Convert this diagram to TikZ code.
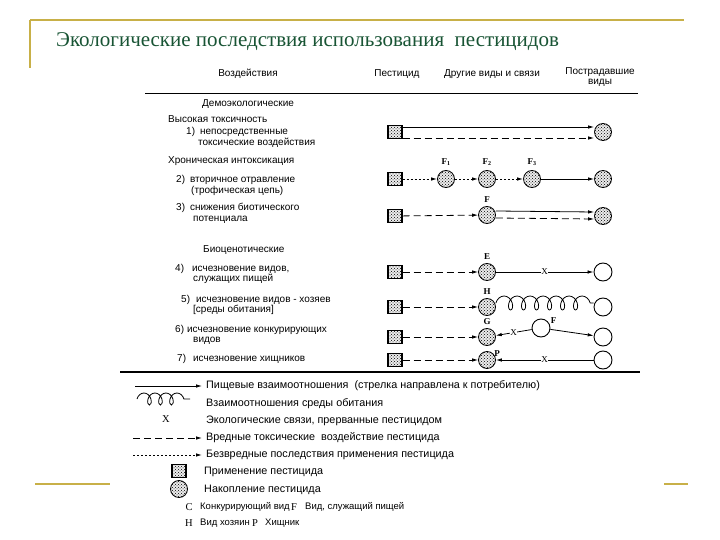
\documentclass[tikz,border=0pt]{standalone}
\usepackage{fontspec}
\setmainfont{Liberation Serif}
\setsansfont{Liberation Sans}
\usetikzlibrary{arrows.meta, positioning, patterns, decorations.pathmorphing}

\definecolor{framegold}{RGB}{200,176,72}
\definecolor{titlegreen}{RGB}{24,84,52}

\tikzset{
  pest/.style={rectangle, draw, line width=1.4pt, minimum width=14pt, minimum height=13pt, inner sep=0pt, fill=gray!15, postaction={pattern=crosshatch dots}},
  accum/.style={circle, draw, line width=0.8pt, minimum size=17pt, inner sep=0pt, fill=gray!15, postaction={pattern=crosshatch dots}},
  spec/.style={circle, draw, line width=0.9pt, minimum size=18pt, inner sep=0pt},
  food/.style={->, line width=0.8pt},
  harm/.style={->, line width=0.8pt, dash pattern=on 7pt off 4pt},
  safe/.style={->, line width=0.9pt, dash pattern=on 2pt off 2pt},
  habitat/.style={line width=0.8pt, decorate, decoration={coil, aspect=0.7, segment length=13pt, amplitude=7pt}},
  xmark/.style={font=\rmfamily\small, fill=white, inner sep=0.5pt},
  lbl/.style={font=\rmfamily\bfseries\small, inner sep=1pt},
  txt/.style={font=\sffamily\fontsize{10}{10.5}\selectfont, anchor=base west, inner sep=0pt, align=left},
  hdr/.style={font=\sffamily\fontsize{10}{9.5}\selectfont, inner sep=0pt, align=center},
  leg/.style={font=\sffamily\fontsize{10.8}{12}\selectfont, anchor=west, inner sep=0pt},
  legsm/.style={font=\sffamily\fontsize{9.5}{11}\selectfont, anchor=west, inner sep=0pt},
  letter/.style={font=\rmfamily\fontsize{10.5}{12}\selectfont, inner sep=0pt}
}

\begin{document}
\begin{tikzpicture}[x=1pt, y=-1pt, >={Latex[length=6pt,width=3.5pt]}]
  \fill[white] (0,0) rectangle (720,540);
  \useasboundingbox (0,0) rectangle (720,540);

  % slide frame
  \draw[framegold, line width=1.6pt] (30,20) -- (684,20);
  \draw[framegold, line width=1.6pt] (30,20) -- (30,68);
  \draw[framegold, line width=1.6pt] (35,484) -- (110,484);
  \draw[framegold, line width=1.6pt] (664,484) -- (688,484);
  \node[font=\rmfamily\fontsize{21}{24}\selectfont, text=titlegreen, anchor=west, inner sep=0pt] (title) at (56,42) {Экологические последствия использования~ пестицидов};

  % table head
  \node[hdr] (hImpact) at (248,74) {Воздействия};
  \node[hdr] (hPest) at (397,74) {Пестицид};
  \node[hdr] (hOther) at (492,74) {Другие виды и связи};
  \node[hdr] (hVictim) at (600,77) {Пострадавшие\\виды};
  \draw[line width=1.3pt] (145,93.5) -- (638,93.5);

  % left column (base = last line)
  \node[txt] (tDemo) at (202,107) {Демоэкологические};
  \node[txt] (tHigh) at (168,123) {Высокая токсичность};
  \node[txt] (t1) at (186,145.5) {1)\hspace{5pt}непосредственные\\\hspace{12pt}токсические воздействия};
  \node[txt] (tChron) at (168,164) {Хроническая интоксикация};
  \node[txt] (t2) at (176,193.5) {2)\hspace{5pt}вторичное отравление\\\hspace{15pt}(трофическая цепь)};
  \node[txt] (t3) at (176,221.5) {3)\hspace{5pt}снижения биотического\\\hspace{17pt}потенциала};
  \node[txt] (tBio) at (203,252) {Биоценотические};
  \node[txt] (t4) at (175,281.5) {4)\hspace{8pt}исчезновение видов,\\\hspace{18pt}служащих пищей};
  \node[txt] (t5) at (181,312.5) {5)\hspace{6pt}исчезновение видов - хозяев\\\hspace{12pt}[среды обитания]};
  \node[txt] (t6) at (175,342.5) {6)\hspace{3pt}исчезновение конкурирующих\\\hspace{18pt}видов};
  \node[txt] (t7) at (177,361) {7)\hspace{7pt}исчезновение хищников};

  % 1: direct toxic effects
  \node[pest] (s1) at (395,132) {};
  \node[accum] (v1) at (603,132) {};
  \draw[food] ([yshift=5pt]s1.east) -- ([yshift=5pt]v1.west);
  \draw[harm] ([yshift=-6pt]s1.east) -- ([yshift=-6pt]v1.west);

  % 2: food chain
  \node[pest] (s2) at (395,179) {};
  \node[accum] (f1) at (446,179) {};
  \node[accum] (f2) at (487,179) {};
  \node[accum] (f3) at (532,179) {};
  \node[accum] (v2) at (603,179) {};
  \node[lbl, above=3pt of f1] (lf1) {F\textsubscript{1}};
  \node[lbl, above=3pt of f2] (lf2) {F\textsubscript{2}};
  \node[lbl, above=3pt of f3] (lf3) {F\textsubscript{3}};
  \draw[safe] (s2) -- (f1);
  \draw[safe] (f1) -- (f2);
  \draw[safe] (f2) -- (f3);
  \draw[food] (f3) -- (v2);

  % 3: biotic potential
  \node[pest] (s3) at (395,216) {};
  \node[accum] (fr3) at (487,215) {};
  \node[accum] (v3) at (603,216) {};
  \node[lbl, above=2pt of fr3] (lfr3) {F};
  \draw[harm] (s3) -- (fr3);
  \draw[food] ([yshift=4pt]fr3.east) -- ([yshift=4pt]v3.west);
  \draw[harm] ([yshift=-3pt]fr3.east) -- ([yshift=-3pt]v3.west);

  % 4: food species
  \node[pest] (s4) at (395,272) {};
  \node[accum] (e4) at (487,272) {};
  \node[spec] (v4) at (603,272) {};
  \node[lbl, above=2pt of e4] (le4) {E};
  \draw[harm] (s4) -- (e4);
  \draw[food] (e4) -- node[xmark] (x4) {X} (v4);

  % 5: host species
  \node[pest] (s5) at (395,307) {};
  \node[accum] (h5) at (487,307) {};
  \node[spec] (v5) at (603,307) {};
  \node[lbl, above=2pt of h5] (lh5) {H};
  \draw[harm] (s5) -- (h5);
  \draw[habitat] ([yshift=4pt]h5.east) -- ([yshift=4pt]v5.west);

  % 6: competitors
  \node[pest] (s6) at (395,337) {};
  \node[accum] (g6) at (487,337) {};
  \node[spec] (c6) at (541,328) {};
  \node[spec] (v6) at (603,337) {};
  \node[lbl, above=2pt of g6] (lg6) {G};
  \node[lbl, above right=-3pt and 2pt of c6] (lc6) {F};
  \draw[harm] (s6) -- (g6);
  \draw[food] (c6) -- node[xmark] (x6) {X} (g6);
  \draw[food] (c6) -- (v6);

  % 7: predators
  \node[pest] (s7) at (395,360) {};
  \node[accum] (p7) at (487,360) {};
  \node[spec] (v7) at (603,360) {};
  \node[lbl, above right=-4pt and 0pt of p7] (lp7) {P};
  \draw[harm] (s7) -- (p7);
  \draw[food] (v7) -- node[xmark] (x7) {X} (p7);

  \draw[line width=1.5pt] (120,372) -- (640,372);

  % legend
  \node[leg] (lg1) at (206,386) {Пищевые взаимоотношения~ (стрелка направлена к потребителю)};
  \coordinate (lg1s) at (135,386);
  \draw[food] (lg1s) -- ([xshift=-4pt]lg1.west);
  \coordinate (lc1) at (137,399);
  \coordinate (lc2) at (190,399);
  \draw[habitat, decoration={segment length=11pt, amplitude=6pt}] (lc1) -- (lc2);
  \node[leg] (lg2) at (206,404) {Взаимоотношения среды обитания};
  \node[letter] (lx) at (166,419) {X};
  \node[leg] (lg3) at (206,421) {Экологические связи, прерванные пестицидом};
  \node[leg] (lg4) at (206,438) {Вредные токсические~ воздействие пестицида};
  \coordinate (lg4s) at (133,438);
  \draw[harm] (lg4s) -- ([xshift=-4pt]lg4.west);
  \node[leg] (lg5) at (206,455) {Безвредные последствия применения пестицида};
  \coordinate (lg5s) at (133,455);
  \draw[safe] (lg5s) -- ([xshift=-4pt]lg5.west);
  \node[pest] (lsq) at (179,471) {};
  \node[leg] (lg6) at (204,472) {Применение пестицида};
  \node[accum] (lci) at (179,489) {};
  \node[leg] (lg7) at (204,490) {Накопление пестицида};
  \node[letter] (lC) at (189,507) {C};
  \node[legsm] (lg8) at (200,507) {Конкурирующий вид};
  \node[letter] (lF) at (294,507) {F};
  \node[legsm] (lg9) at (305,507) {Вид, служащий пищей};
  \node[letter] (lH) at (189,523) {H};
  \node[legsm] (lg10) at (200,523) {Вид хозяин};
  \node[letter] (lP) at (255,523) {P};
  \node[legsm] (lg11) at (265,523) {Хищник};
\end{tikzpicture}
\end{document}
